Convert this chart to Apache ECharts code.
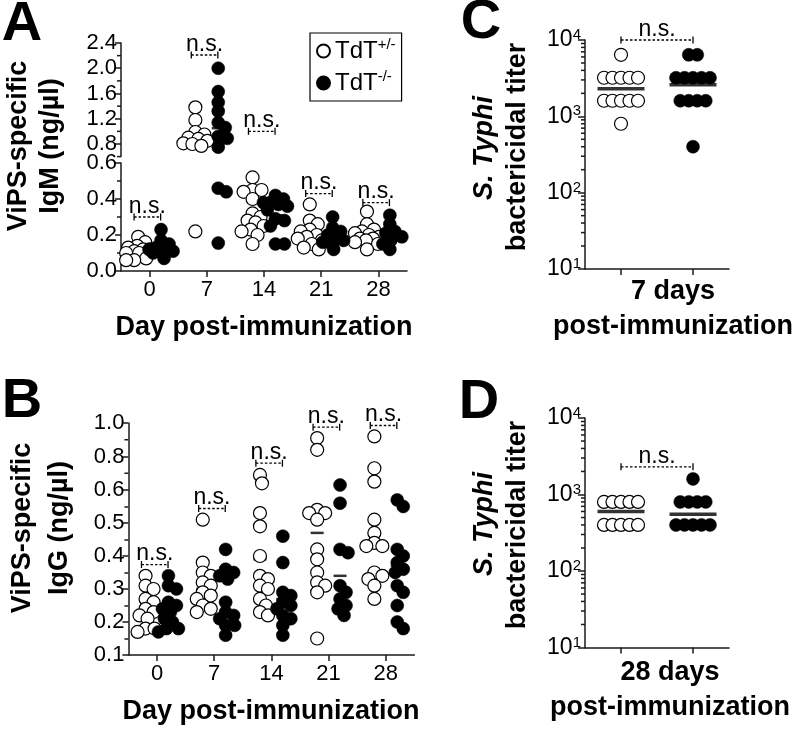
<!DOCTYPE html>
<html><head><meta charset="utf-8">
<script src="https://cdn.jsdelivr.net/npm/echarts@6/dist/echarts.min.js"></script>
<style>html,body{margin:0;padding:0;background:#fff}#root{position:relative;width:800px;height:729px;overflow:hidden}</style>
</head><body><div id="root"></div>
<script>
const FONT = '"Liberation Sans", Arial, Helvetica, sans-serif';

// ---------- DATA ----------
const days = [0, 7, 14, 21, 28];
// Panel A: ViPS-specific IgM (ng/ul)
const igmOpen = [
  [0.19, 0.16, 0.14, 0.13, 0.12, 0.12, 0.11, 0.10, 0.10, 0.07, 0.06, 0.06],
  [1.38, 1.18, 0.99, 0.95, 0.90, 0.88, 0.85, 0.81, 0.80, 0.77, 0.22],
  [0.52, 0.45, 0.45, 0.44, 0.40, 0.32, 0.30, 0.28, 0.27, 0.25, 0.23, 0.22, 0.20, 0.15],
  [0.37, 0.28, 0.26, 0.23, 0.22, 0.20, 0.19, 0.18, 0.17, 0.15, 0.13, 0.12],
  [0.33, 0.26, 0.23, 0.22, 0.21, 0.20, 0.19, 0.18, 0.18, 0.17, 0.16, 0.15, 0.12]
];
const igmFilled = [
  [0.23, 0.17, 0.15, 0.13, 0.12, 0.12, 0.11, 0.11, 0.10, 0.07],
  [2.00, 1.63, 1.46, 1.32, 1.14, 1.06, 0.92, 0.89, 0.75, 0.46, 0.44, 0.155],
  [0.42, 0.40, 0.38, 0.38, 0.37, 0.36, 0.34, 0.29, 0.28, 0.25, 0.15, 0.15],
  [0.30, 0.24, 0.22, 0.20, 0.17, 0.17, 0.16, 0.16, 0.12],
  [0.31, 0.26, 0.22, 0.21, 0.19, 0.17, 0.15, 0.12]
];
const igmOpenMean = [0.11, 0.86, 0.32, 0.20, 0.19];
const igmFilledMean = [0.13, 1.05, 0.31, 0.19, 0.19];
const igmBracket = [0.30, 2.21, 1.00, 0.43, 0.38];

// Panel B: ViPS-specific IgG (ng/ul)
const iggOpen = [
  [0.34, 0.31, 0.30, 0.27, 0.26, 0.24, 0.23, 0.22, 0.21, 0.18, 0.18, 0.17],
  [0.51, 0.38, 0.35, 0.34, 0.32, 0.31, 0.29, 0.28, 0.27, 0.25, 0.24, 0.23],
  [0.69, 0.64, 0.53, 0.49, 0.40, 0.34, 0.33, 0.31, 0.30, 0.27, 0.25, 0.23, 0.22],
  [0.91, 0.84, 0.54, 0.53, 0.53, 0.51, 0.42, 0.39, 0.35, 0.32, 0.31, 0.29, 0.15],
  [0.92, 0.73, 0.65, 0.51, 0.47, 0.44, 0.43, 0.43, 0.35, 0.34, 0.33, 0.31, 0.27]
];
const iggFilled = [
  [0.34, 0.31, 0.30, 0.26, 0.25, 0.24, 0.23, 0.21, 0.20, 0.18, 0.18, 0.17],
  [0.42, 0.36, 0.35, 0.34, 0.33, 0.26, 0.23, 0.22, 0.21, 0.19, 0.19, 0.16],
  [0.46, 0.38, 0.29, 0.28, 0.26, 0.25, 0.24, 0.22, 0.21, 0.19, 0.16],
  [0.63, 0.56, 0.42, 0.41, 0.31, 0.29, 0.27, 0.25, 0.24, 0.22],
  [0.57, 0.55, 0.42, 0.40, 0.38, 0.36, 0.35, 0.31, 0.29, 0.25, 0.20, 0.18]
];
const iggOpenMean = [0.24, 0.30, 0.39, 0.47, 0.47];
const iggFilledMean = [0.24, 0.26, 0.27, 0.34, 0.37];
const iggBracket = [0.374, 0.544, 0.76, 0.975, 0.985];

// Panels C and D: S. Typhi bactericidal titer
const titer7Open = [6400, 3200, 3200, 3200, 3200, 3200, 1600, 1600, 1600, 1600, 1600, 800];
const titer7Filled = [6400, 6400, 3200, 3200, 3200, 3200, 3200, 1600, 1600, 1600, 1600, 400];
const titer7Mean = [2300, 2600];
const titer28Open = [800, 800, 800, 800, 800, 400, 400, 400, 400, 400];
const titer28Filled = [1600, 800, 800, 800, 800, 400, 400, 400, 400, 400];
const titer28Mean = [600, 550];
const titerBracket = [10000, 2300];

// Tick labels / tick values
const yLabAUpper = [0.8, 1.2, 1.6, 2.0, 2.4];
const yMinorAUpper = [0.6, 1.0, 1.4, 1.8, 2.2];
const yLabBUpper = [0.8, 1.0];
const yMinorBUpper = [0.7, 0.9];
const logMinor = [20, 30, 40, 50, 60, 70, 80, 90, 200, 300, 400, 500, 600, 700, 800, 900,
                  2000, 3000, 4000, 5000, 6000, 7000, 8000, 9000];
const groupPos = [1, 2];

// ---------- STYLE HELPERS ----------
const AXC = '#1a1a1a';
const SHIFT = 1.4;
const DAY_MIN = -3.5, DAY_MAX = 31.5, GROUP_MIN = 0.5, GROUP_MAX = 2.5;
const NAME = {open: 'TdT+/-', filled: 'TdT-/-'};
const axl = () => ({show: true, onZero: false, lineStyle: {color: AXC, width: 1.5}});
const nosplit = () => ({splitLine: {show: false}, minorSplitLine: {show: false}, splitArea: {show: false}});
const tickStyle = () => ({color: AXC, width: 1.5});
const lab = () => ({color: '#000', fontFamily: FONT, fontSize: 22});
const OPEN = () => ({color: '#fff', borderColor: '#000', borderWidth: 1.2, opacity: 1});
const FILL = () => ({color: '#000', borderColor: '#000', borderWidth: 0.5, opacity: 1});
const fmt1 = v => v.toFixed(1);

function dayX(gi, visible) {
  const ax = Object.assign({gridIndex: gi, type: 'value', min: DAY_MIN, max: DAY_MAX}, nosplit());
  if (!visible) {
    ax.axisLine = {show: false, onZero: false}; ax.axisTick = {show: false}; ax.axisLabel = {show: false};
    return ax;
  }
  ax.axisLine = axl();
  ax.axisTick = {show: true, customValues: days.slice(), length: 6, lineStyle: tickStyle()};
  ax.axisLabel = Object.assign({customValues: days.slice(), margin: 8}, lab());
  return ax;
}
function groupX(gi) {
  return Object.assign({gridIndex: gi, type: 'value', min: GROUP_MIN, max: GROUP_MAX,
    axisLine: axl(), axisTick: {show: true, customValues: groupPos.slice(), length: 6, lineStyle: tickStyle()},
    axisLabel: {show: false}}, nosplit());
}
function valY(gi, min, max, opts) {
  return Object.assign({gridIndex: gi, type: 'value', position: 'left', min, max, axisLine: axl()}, nosplit(), opts);
}
function logY(gi) {
  return Object.assign({gridIndex: gi, type: 'log', logBase: 10, min: 10, max: 10000, position: 'left',
    axisLine: axl(), axisTick: {show: true, length: 7, lineStyle: tickStyle()},
    axisLabel: {margin: 4, color: '#000', fontFamily: FONT, fontSize: 23,
      formatter: v => '10{sup|' + Math.round(Math.log10(v)) + '}',
      rich: {sup: {fontSize: 15, fontFamily: FONT, color: '#000', verticalAlign: 'top', padding: [0, 0, 10, 0]}}}}, nosplit());
}

// ---------- PANELS ----------
const PANELS = [
  { // A
    grids: [{left: 121, top: 43, width: 286, height: 113.6}, {left: 121, top: 163, width: 286, height: 108}],
    xAxis: () => [dayX(0, false), dayX(1, true)],
    yAxis: () => [
      valY(0, 0.6, 2.4, {axisTick: {show: true, customValues: yLabAUpper.slice(), length: 6, lineStyle: tickStyle()},
        axisLabel: Object.assign({customValues: yLabAUpper.slice(), formatter: fmt1, margin: 4}, lab())}),
      valY(1, 0, 0.6, {interval: 0.2, axisTick: {show: true, length: 6, lineStyle: tickStyle()},
        minorTick: {show: true, splitNumber: 2, length: 4, lineStyle: tickStyle()},
        axisLabel: Object.assign({formatter: fmt1, margin: 4}, lab())})],
    pairs: [{xAxisIndex: 0, yAxisIndex: 0}, {xAxisIndex: 1, yAxisIndex: 1}],
    key: v => (v >= 0.6 ? 0 : 1),
    groups: days.flatMap((d, i) => [{kind: 'open', cx: d - SHIFT, values: igmOpen[i]}, {kind: 'filled', cx: d + SHIFT, values: igmFilled[i]}]),
    means: days.flatMap((d, i) => [{cx: d - SHIFT, v: igmOpenMean[i]}, {cx: d + SHIFT, v: igmFilledMean[i]}]),
    meanSize: [13, 2.5],
    brackets: days.map((d, i) => ({x1: d - 1.9, x2: d + 1.35, v: igmBracket[i]})),
    minors: [{pair: 0, x: DAY_MIN, values: yMinorAUpper}],
    texts: [{text: 'A', x: 22, y: 25, size: 56}, {text: 'ViPS-specific', x: 19, y: 146, size: 27, rot: true},
            {text: 'IgM (ng/µl)', x: 51, y: 146, size: 27, rot: true}, {text: 'Day post-immunization', x: 264, y: 328, size: 27}],
    legend: true,
    checks: {dark: [[121, 100], [121, 215]], light: [[320, 125]]}
  },
  { // B
    grids: [{left: 128.4, top: 423, width: 286, height: 67}, {left: 128.4, top: 490, width: 286, height: 165}],
    xAxis: () => [dayX(0, false), dayX(1, true)],
    yAxis: () => [
      valY(0, 0.6, 1.0, {axisTick: {show: true, customValues: yLabBUpper.slice(), length: 6, lineStyle: tickStyle()},
        axisLabel: Object.assign({customValues: yLabBUpper.slice(), formatter: fmt1, margin: 4}, lab())}),
      valY(1, 0.1, 0.6, {interval: 0.1, axisTick: {show: true, length: 6, lineStyle: tickStyle()},
        minorTick: {show: true, splitNumber: 2, length: 4, lineStyle: tickStyle()},
        axisLabel: Object.assign({formatter: fmt1, margin: 4}, lab())})],
    pairs: [{xAxisIndex: 0, yAxisIndex: 0}, {xAxisIndex: 1, yAxisIndex: 1}],
    key: v => (v >= 0.6 ? 0 : 1),
    groups: days.flatMap((d, i) => [{kind: 'open', cx: d - SHIFT, values: iggOpen[i]}, {kind: 'filled', cx: d + SHIFT, values: iggFilled[i]}]),
    means: days.flatMap((d, i) => [{cx: d - SHIFT, v: iggOpenMean[i]}, {cx: d + SHIFT, v: iggFilledMean[i]}]),
    meanSize: [13, 2.5],
    brackets: days.map((d, i) => ({x1: d - 1.9, x2: d + 1.35, v: iggBracket[i]})),
    minors: [{pair: 0, x: DAY_MIN, values: yMinorBUpper}],
    texts: [{text: 'B', x: 22, y: 402, size: 56}, {text: 'ViPS-specific', x: 23, y: 528, size: 27, rot: true},
            {text: 'IgG (ng/µl)', x: 60, y: 528, size: 27, rot: true}, {text: 'Day post-immunization', x: 271, y: 712, size: 27}],
    legend: false,
    checks: {dark: [[128, 460], [128, 600]], light: [[157, 450], [214, 450]]}
  },
  { // C
    grids: [{left: 585, top: 40, width: 144, height: 229}],
    xAxis: () => [groupX(0)],
    yAxis: () => [logY(0)],
    pairs: [{xAxisIndex: 0, yAxisIndex: 0}],
    key: () => 0,
    groups: [{kind: 'open', cx: groupPos[0], values: titer7Open, rows: true}, {kind: 'filled', cx: groupPos[1], values: titer7Filled, rows: true}],
    means: [{cx: groupPos[0], v: titer7Mean[0]}, {cx: groupPos[1], v: titer7Mean[1]}],
    meanSize: [47, 3.5],
    brackets: [{x1: groupPos[0], x2: groupPos[1], v: titerBracket[0]}],
    minors: [{pair: 0, x: GROUP_MIN, values: logMinor}],
    texts: [{text: 'C', x: 481, y: 23, size: 56}, {text: 'S. Typhi', x: 485, y: 148, size: 27, rot: true, italic: true},
            {text: 'bactericidal titer', x: 518, y: 147, size: 27, rot: true},
            {text: '7 days', x: 673, y: 292, size: 27}, {text: 'post-immunization', x: 673, y: 327, size: 27}],
    legend: false,
    checks: {dark: [[585, 150]], light: [[621, 200], [693, 200]]}
  },
  { // D
    grids: [{left: 585, top: 418, width: 144, height: 229.5}],
    xAxis: () => [groupX(0)],
    yAxis: () => [logY(0)],
    pairs: [{xAxisIndex: 0, yAxisIndex: 0}],
    key: () => 0,
    groups: [{kind: 'open', cx: groupPos[0], values: titer28Open, rows: true}, {kind: 'filled', cx: groupPos[1], values: titer28Filled, rows: true}],
    means: [{cx: groupPos[0], v: titer28Mean[0]}, {cx: groupPos[1], v: titer28Mean[1]}],
    meanSize: [47, 3.5],
    brackets: [{x1: groupPos[0], x2: groupPos[1], v: titerBracket[1]}],
    minors: [{pair: 0, x: GROUP_MIN, values: logMinor}],
    texts: [{text: 'D', x: 479, y: 403, size: 56}, {text: 'S. Typhi', x: 485, y: 524, size: 27, rot: true, italic: true},
            {text: 'bactericidal titer', x: 518, y: 525, size: 27, rot: true},
            {text: '28 days', x: 670, y: 673, size: 27}, {text: 'post-immunization', x: 670, y: 708, size: 27}],
    legend: false,
    checks: {dark: [[585, 530]], light: [[621, 580], [693, 580]]}
  }
];

// ---------- RENDER HELPERS ----------
const root = document.getElementById('root');
function makeDiv(parent, css) { const d = document.createElement('div'); d.style.cssText = css; parent.appendChild(d); return d; }

function bracketRender(params, api) {
  const p1 = api.coord([api.value(0), api.value(2)]);
  const p2 = api.coord([api.value(1), api.value(2)]);
  const st = {stroke: '#000', lineWidth: 1.3};
  return {type: 'group', children: [
    {type: 'line', shape: {x1: p1[0], y1: p1[1], x2: p2[0], y2: p1[1]}, style: {stroke: '#000', lineWidth: 1.3, lineDash: [2.5, 2]}},
    {type: 'line', shape: {x1: p1[0], y1: p1[1] - 3.5, x2: p1[0], y2: p1[1] + 3.5}, style: st},
    {type: 'line', shape: {x1: p2[0], y1: p1[1] - 3.5, x2: p2[0], y2: p1[1] + 3.5}, style: st},
    {type: 'text', x: (p1[0] + p2[0]) / 2, y: p1[1] + 1,
      style: {text: 'n.s.', fill: '#000', fontFamily: FONT, fontSize: 23, align: 'center', verticalAlign: 'bottom'}}
  ]};
}
function minorRender(params, api) {
  const p = api.coord([api.value(0), api.value(1)]);
  return {type: 'line', shape: {x1: p[0] - 4, y1: p[1], x2: p[0], y2: p[1]}, style: {stroke: AXC, lineWidth: 1.5}};
}
function gText(t) {
  const g = {type: 'text', x: t.x, y: t.y, silent: true,
    style: {text: t.text, fill: '#000', fontFamily: FONT, fontSize: t.size, fontWeight: 'bold',
      fontStyle: t.italic ? 'italic' : 'normal', align: 'center', verticalAlign: 'middle'}};
  if (t.rot) g.rotation = Math.PI / 2;
  return g;
}
function legendOption() {
  return {
    left: 310, top: 33, orient: 'vertical', selectedMode: false,
    data: [{name: NAME.open, icon: 'circle'}, {name: NAME.filled, icon: 'circle'}],
    itemWidth: 13, itemHeight: 13, itemGap: 4, padding: [4, 6, 4, 6],
    borderColor: '#000', borderWidth: 1.2,
    formatter: n => n === NAME.open ? 'TdT{sup|+/-}' : 'TdT{sup|-/-}',
    textStyle: {fontFamily: FONT, fontSize: 24, color: '#000', lineHeight: 28,
      rich: {sup: {fontSize: 15, fontFamily: FONT, color: '#000', verticalAlign: 'top', lineHeight: 28, padding: [0, 0, 12, 0]}}}
  };
}
function htmlText(ov, t) {
  const d = makeDiv(ov, 'position:absolute;left:' + t.x + 'px;top:' + t.y + 'px;transform:translate(-50%,-50%)' +
    (t.rot ? ' rotate(-90deg)' : '') + ';font:' + (t.italic ? 'italic ' : '') + 'bold ' + t.size + 'px ' + FONT +
    ';color:#000;white-space:nowrap;line-height:1.15;');
  d.textContent = t.text;
}
function htmlLegend(ov) {
  const box = makeDiv(ov, 'position:absolute;left:310px;top:33px;border:1.2px solid #000;padding:3px 7px 3px 6px;font:24px ' + FONT + ';color:#000;line-height:28px;white-space:nowrap;');
  [['+/-', '#fff'], ['-/-', '#000']].forEach(([sup, fill]) => {
    const row = document.createElement('div');
    row.innerHTML = '<span style="display:inline-block;width:11px;height:11px;border:1.2px solid #000;border-radius:50%;background:' + fill +
      ';margin-right:6px;vertical-align:1px"></span>TdT<sup style="font-size:15px;line-height:0">' + sup + '</sup>';
    box.appendChild(row);
  });
}
function htmlExtras(ov, chart, P) {
  P.means.forEach(m => {
    const p = chart.convertToPixel(P.pairs[P.key(m.v)], [m.cx, m.v]);
    makeDiv(ov, 'position:absolute;background:#000;left:' + (p[0] - P.meanSize[0] / 2) + 'px;top:' + (p[1] - P.meanSize[1] / 2) +
      'px;width:' + P.meanSize[0] + 'px;height:' + P.meanSize[1] + 'px;');
  });
  P.brackets.forEach(b => {
    const am = P.pairs[P.key(b.v)];
    const p1 = chart.convertToPixel(am, [b.x1, b.v]);
    const p2 = chart.convertToPixel(am, [b.x2, b.v]);
    makeDiv(ov, 'position:absolute;left:' + p1[0] + 'px;top:' + (p1[1] - 0.6) + 'px;width:' + (p2[0] - p1[0]) + 'px;height:0;border-top:1.3px dashed #000;');
    [p1[0], p2[0]].forEach(x => makeDiv(ov, 'position:absolute;background:#000;left:' + (x - 0.6) + 'px;top:' + (p1[1] - 3.5) + 'px;width:1.3px;height:7px;'));
    const t = makeDiv(ov, 'position:absolute;left:' + ((p1[0] + p2[0]) / 2) + 'px;top:' + (p1[1] + 1) + 'px;transform:translate(-50%,-100%);font:23px ' + FONT + ';color:#000;white-space:nowrap;line-height:1.15;');
    t.textContent = 'n.s.';
  });
  P.minors.forEach(mn => mn.values.forEach(v => {
    const p = chart.convertToPixel(P.pairs[mn.pair], [mn.x, v]);
    makeDiv(ov, 'position:absolute;background:' + AXC + ';left:' + (p[0] - 4) + 'px;top:' + (p[1] - 0.75) + 'px;width:4px;height:1.5px;');
  }));
}

// beeswarm / row layout computed through the library's scales
const MIN_D = 8.5, MAXOFF = 12, ROW_STEP = 8.5;
function swarm(chart, P) {
  const out = {};
  P.pairs.forEach((pr, i) => ['open', 'filled'].forEach(k => { out['pt' + i + '-' + k] = []; }));
  P.groups.forEach(g => {
    const pts = g.values.map(v => {
      const pi = P.key(v);
      const am = P.pairs[pi];
      const p = chart.convertToPixel(am, [g.cx, v]);
      return {v, pi, am, py: p[1], dx: 0};
    });
    if (g.rows) {
      const byVal = new Map();
      pts.forEach(p => { if (!byVal.has(p.v)) byVal.set(p.v, []); byVal.get(p.v).push(p); });
      byVal.forEach(arr => { const n = arr.length; arr.forEach((p, i) => { p.dx = (i - (n - 1) / 2) * ROW_STEP; }); });
    } else {
      const placed = [];
      pts.slice().sort((a, b) => a.py - b.py).forEach(p => {
        let best = null, alt = 0, altScore = -1;
        outer: for (let k = 0; k <= MAXOFF; k++) {
          const cands = k === 0 ? [0] : [k, -k];
          for (const s of cands) {
            let md = Infinity;
            placed.forEach(q => { const d = Math.hypot(q.dx - s, q.py - p.py); if (d < md) md = d; });
            if (md >= MIN_D) { best = s; break outer; }
            if (md > altScore) { altScore = md; alt = s; }
          }
        }
        p.dx = best !== null ? best : alt;
        placed.push(p);
      });
    }
    pts.forEach(p => {
      const x0 = chart.convertToPixel({xAxisIndex: p.am.xAxisIndex}, g.cx);
      const x1 = chart.convertToPixel({xAxisIndex: p.am.xAxisIndex}, g.cx + 1);
      out['pt' + p.pi + '-' + g.kind].push([g.cx + p.dx / (x1 - x0), p.v]);
    });
  });
  return Object.keys(out).map(id => ({id, data: out[id]}));
}

function buildPanel(P, fl) {
  const wrap = makeDiv(root, 'position:absolute;left:0;top:0;width:800px;height:729px;');
  const chart = echarts.init(wrap, null, {renderer: 'canvas'});
  const series = [];
  const buckets = {};
  P.pairs.forEach((pr, i) => ['open', 'filled'].forEach(k => { buckets['pt' + i + '-' + k] = []; }));
  P.groups.forEach(g => g.values.forEach(v => buckets['pt' + P.key(v) + '-' + g.kind].push([g.cx, v])));
  Object.keys(buckets).forEach(id => {
    const parts = id.slice(2).split('-');
    const pi = +parts[0], kind = parts[1];
    series.push(Object.assign({id, name: NAME[kind], type: 'scatter', symbol: 'circle', symbolSize: 13,
      itemStyle: kind === 'open' ? OPEN() : FILL(), z: 3, clip: false, emphasis: {disabled: true},
      data: buckets[id]}, P.pairs[pi]));
  });
  if (fl.extras) {
    P.means.forEach(m => series.push(Object.assign({type: 'scatter', name: 'mean', symbol: 'rect', symbolSize: P.meanSize.slice(),
      itemStyle: {color: '#000'}, z: 2, clip: false, silent: true, data: [[m.cx, m.v]]}, P.pairs[P.key(m.v)])));
    P.brackets.forEach(b => series.push(Object.assign({type: 'custom', name: 'ns', renderItem: bracketRender, clip: false,
      silent: true, z: 4, encode: {x: [0, 1], y: 2}, data: [[b.x1, b.x2, b.v]]}, P.pairs[P.key(b.v)])));
    P.minors.forEach(mn => series.push(Object.assign({type: 'custom', name: 'minor', renderItem: minorRender, clip: false,
      silent: true, encode: {x: 0, y: 1}, data: mn.values.map(v => [mn.x, v])}, P.pairs[mn.pair])));
  }
  const option = {
    animation: false, backgroundColor: 'transparent', tooltip: {show: false}, axisPointer: {show: false},
    grid: P.grids.map(g => Object.assign({outerBoundsMode: 'none', containLabel: false, show: false}, g)),
    xAxis: P.xAxis(), yAxis: P.yAxis(), series
  };
  if (fl.chartText) {
    option.graphic = P.texts.map(gText);
    if (P.legend) option.legend = legendOption();
  }
  chart.setOption(option);
  chart.setOption({series: swarm(chart, P)});
  const ov = makeDiv(wrap, 'position:absolute;left:0;top:0;width:800px;height:729px;pointer-events:none;');
  if (!fl.chartText) { P.texts.forEach(t => htmlText(ov, t)); if (P.legend) htmlLegend(ov); }
  if (!fl.extras) htmlExtras(ov, chart, P);
  return {wrap, chart};
}

// pixel self-check: axis line must be drawn, no stray vertical lines in empty areas
function minLum(canvas, x, y) {
  const d = canvas.getContext('2d').getImageData(x - 2, y, 5, 1).data;
  let mn = 255;
  for (let i = 0; i < d.length; i += 4) {
    const a = d[i + 3] / 255, avg = (d[i] + d[i + 1] + d[i + 2]) / 3;
    const l = 255 - a * (255 - avg);
    if (l < mn) mn = l;
  }
  return mn;
}
function panelOk(wrap, P) {
  const cv = wrap.querySelector('canvas');
  if (!cv) return true;
  try {
    for (const [x, y] of P.checks.dark) if (minLum(cv, x, y) > 140) return false;
    for (const [x, y] of P.checks.light) if (minLum(cv, x, y) < 200) return false;
  } catch (e) { return true; }
  return true;
}

const VARIANTS = [
  {chartText: true, extras: true},
  {chartText: false, extras: true},
  {chartText: true, extras: false},
  {chartText: false, extras: false}
];
PANELS.forEach(P => {
  for (const fl of VARIANTS) {
    const r = buildPanel(P, fl);
    if (panelOk(r.wrap, P)) return;
    r.chart.dispose();
    r.wrap.remove();
  }
  buildPanel(P, VARIANTS[0]);
});
</script>
</body></html>
